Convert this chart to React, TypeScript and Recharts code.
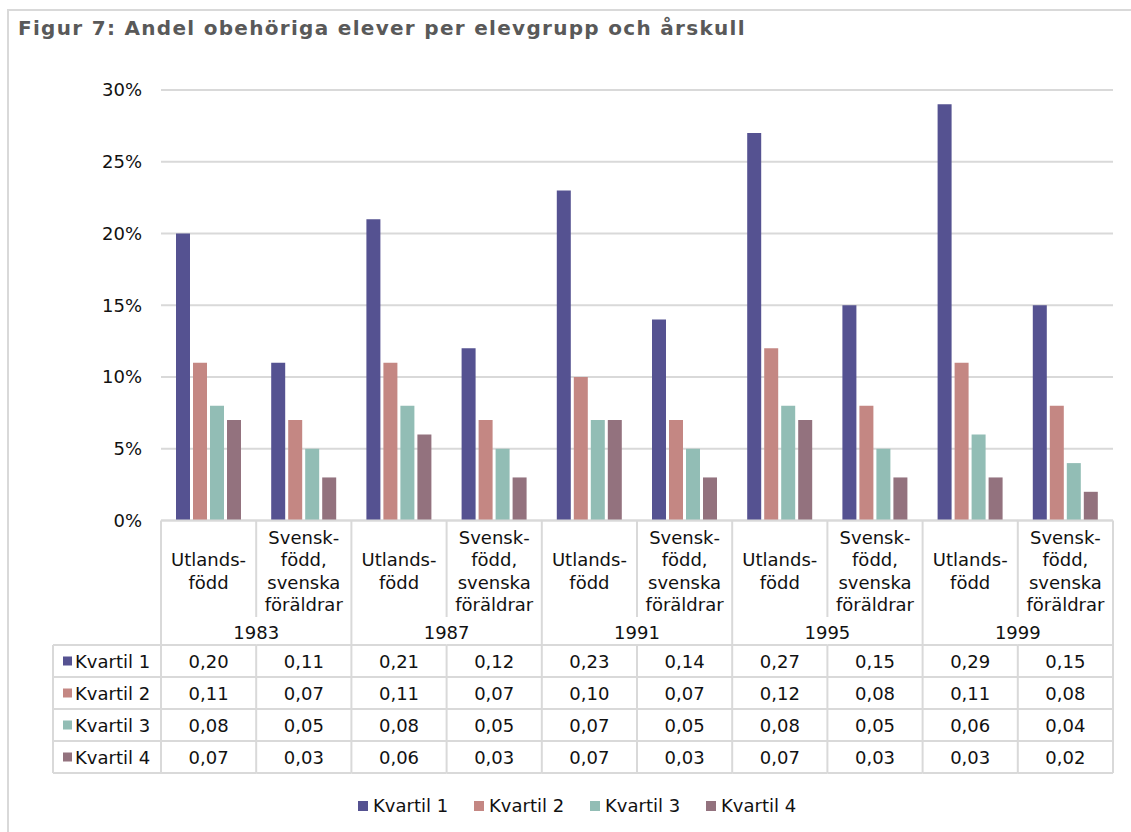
import React from 'react'
import { BarChart, Bar, XAxis, YAxis, CartesianGrid, Legend } from 'recharts'

const years = ['1983', '1987', '1991', '1995', '1999']
const groupLabels = [
  ['Utlands-', 'född'],
  ['Svensk-', 'född,', 'svenska', 'föräldrar'],
]
const seriesNames = ['Kvartil 1', 'Kvartil 2', 'Kvartil 3', 'Kvartil 4']
const kvartil1 = [0.2, 0.11, 0.21, 0.12, 0.23, 0.14, 0.27, 0.15, 0.29, 0.15]
const kvartil2 = [0.11, 0.07, 0.11, 0.07, 0.1, 0.07, 0.12, 0.08, 0.11, 0.08]
const kvartil3 = [0.08, 0.05, 0.08, 0.05, 0.07, 0.05, 0.08, 0.05, 0.06, 0.04]
const kvartil4 = [0.07, 0.03, 0.06, 0.03, 0.07, 0.03, 0.07, 0.03, 0.03, 0.02]
const yTicks = [0, 0.05, 0.1, 0.15, 0.2, 0.25, 0.3]

const series = [kvartil1, kvartil2, kvartil3, kvartil4]
const colors = ['#555291', '#c48783', '#92bdb5', '#93727e']

const data = years.flatMap((year, yi) =>
  groupLabels.map((_, gi) => {
    const i = yi * 2 + gi
    return {
      key: `${year}-${gi}`,
      year,
      group: gi,
      k1: kvartil1[i],
      k2: kvartil2[i],
      k3: kvartil3[i],
      k4: kvartil4[i],
    }
  })
)

// layout
const W = 1131
const H = 832
const PLOT_LEFT = 161
const PLOT_RIGHT = 1113
const PLOT_TOP = 90
const PLOT_BOTTOM = 520.5
const Y_AXIS_W = 100
const BAND = (PLOT_RIGHT - PLOT_LEFT) / data.length
const ROW_H = 32
const HEADER_LEFT = 53
const LINE = '#d9d9d9'
const TEXT = '#111'
const FONT = '"DejaVu Sans", Verdana, sans-serif'

const fmt = (v: number) => v.toFixed(2).replace('.', ',')

function TableColumn(props: any) {
  const { x, y, index } = props
  const d = data[index]
  if (!d) return null
  const x0 = x - BAND / 2
  const x1 = x + BAND / 2
  const labelCenter = y + 50.5
  const yearSplit = y + 96.5
  const rowsTop = y + 124.5
  const tableBottom = rowsTop + ROW_H * 4
  const lines = groupLabels[d.group]
  const lh = 22.5
  const els: React.ReactNode[] = []

  els.push(<line key="top" x1={x0} x2={x1} y1={y} y2={y} stroke={LINE} strokeWidth={2} />)
  if (d.group === 0) {
    els.push(<line key="l" x1={x0} x2={x0} y1={y} y2={tableBottom} stroke={LINE} strokeWidth={2} />)
  } else {
    els.push(<line key="l1" x1={x0} x2={x0} y1={y} y2={yearSplit} stroke={LINE} strokeWidth={2} />)
    els.push(<line key="l2" x1={x0} x2={x0} y1={rowsTop} y2={tableBottom} stroke={LINE} strokeWidth={2} />)
  }
  if (index === data.length - 1) {
    els.push(<line key="r" x1={x1} x2={x1} y1={y} y2={tableBottom} stroke={LINE} strokeWidth={2} />)
  }
  for (let k = 0; k <= 4; k++) {
    const yy = rowsTop + k * ROW_H
    els.push(<line key={`h${k}`} x1={x0} x2={x1} y1={yy} y2={yy} stroke={LINE} strokeWidth={2} />)
  }
  lines.forEach((t, li) => {
    const ty = labelCenter + (li - (lines.length - 1) / 2) * lh
    els.push(
      <text key={`c${li}`} x={x} y={ty} textAnchor="middle" dominantBaseline="central" fontSize={18} fill={TEXT}>
        {t}
      </text>
    )
  })
  if (d.group === 0) {
    els.push(
      <text key="year" x={x1} y={y + 111.5} textAnchor="middle" dominantBaseline="central" fontSize={18} fill={TEXT}>
        {d.year}
      </text>
    )
  }
  series.forEach((s, si) => {
    els.push(
      <text key={`v${si}`} x={x} y={rowsTop + ROW_H * si + ROW_H / 2} textAnchor="middle" dominantBaseline="central" fontSize={18} fill={TEXT}>
        {fmt(s[index])}
      </text>
    )
  })
  if (index === 0) {
    els.push(<line key="hl" x1={HEADER_LEFT} x2={HEADER_LEFT} y1={rowsTop} y2={tableBottom} stroke={LINE} strokeWidth={2} />)
    for (let k = 0; k <= 4; k++) {
      const yy = rowsTop + k * ROW_H
      els.push(<line key={`hh${k}`} x1={HEADER_LEFT} x2={x0} y1={yy} y2={yy} stroke={LINE} strokeWidth={2} />)
    }
    seriesNames.forEach((n, si) => {
      const cy = rowsTop + ROW_H * si + ROW_H / 2
      els.push(<rect key={`sq${si}`} x={63} y={cy - 4.5} width={9} height={9} fill={colors[si]} />)
      els.push(
        <text key={`sn${si}`} x={75} y={cy} dominantBaseline="central" fontSize={18} fill={TEXT}>
          {n}
        </text>
      )
    })
  }
  return <g>{els}</g>
}

function LegendContent(props: any) {
  const payload = props.payload || []
  return (
    <div style={{ display: 'flex', fontFamily: FONT, fontSize: 18, color: TEXT }}>
      {payload.map((e: any) => (
        <div key={e.value} style={{ display: 'flex', alignItems: 'center', width: 116 }}>
          <span style={{ width: 10, height: 10, background: e.color, marginRight: 5, display: 'inline-block' }} />
          <span>{e.value}</span>
        </div>
      ))}
    </div>
  )
}

export default function App() {
  return (
    <div style={{ position: 'absolute', left: 0, top: 0, width: W, height: H, background: '#fff', overflow: 'hidden', fontFamily: FONT }}>
      <div
        style={{
          position: 'absolute',
          left: 7,
          top: 9,
          width: W,
          height: H,
          borderLeft: `2px solid ${LINE}`,
          borderTop: `2px solid ${LINE}`,
        }}
      />
      <div
        style={{
          position: 'absolute',
          left: 18,
          top: 16,
          fontSize: 20,
          lineHeight: '24px',
          fontWeight: 'bold',
          letterSpacing: '1.3px',
          color: '#595959',
          whiteSpace: 'nowrap',
        }}
      >
        Figur 7: Andel obehöriga elever per elevgrupp och årskull
      </div>
      <div style={{ position: 'absolute', left: 0, top: 0 }}>
        <BarChart
          width={W}
          height={H}
          data={data}
          margin={{ top: PLOT_TOP, right: W - PLOT_RIGHT, left: PLOT_LEFT - Y_AXIS_W, bottom: 0 }}
          barGap={3}
          barCategoryGap={15}
          style={{ fontFamily: FONT }}
        >
          <CartesianGrid vertical={false} stroke={LINE} strokeWidth={2} />
          <XAxis
            dataKey="key"
            axisLine={false}
            tickLine={false}
            tickSize={0}
            tickMargin={0}
            interval={0}
            height={H - PLOT_BOTTOM}
            tick={(p: any) => <TableColumn {...p} />}
          />
          <YAxis
            width={Y_AXIS_W}
            domain={[0, 0.3]}
            ticks={yTicks}
            axisLine={false}
            tickLine={false}
            tickSize={0}
            tickMargin={19}
            tick={{ fontSize: 18, fill: TEXT }}
            tickFormatter={(v: number) => `${Math.round(v * 100)}%`}
          />
          <Legend
            layout="horizontal"
            verticalAlign="middle"
            align="center"
            wrapperStyle={{ top: 795, left: 358, width: 480, height: 22 }}
            content={(p: any) => <LegendContent {...p} />}
          />
          {['k1', 'k2', 'k3', 'k4'].map((k, i) => (
            <Bar key={k} dataKey={k} name={seriesNames[i]} fill={colors[i]} isAnimationActive={false} />
          ))}
        </BarChart>
      </div>
    </div>
  )
}
